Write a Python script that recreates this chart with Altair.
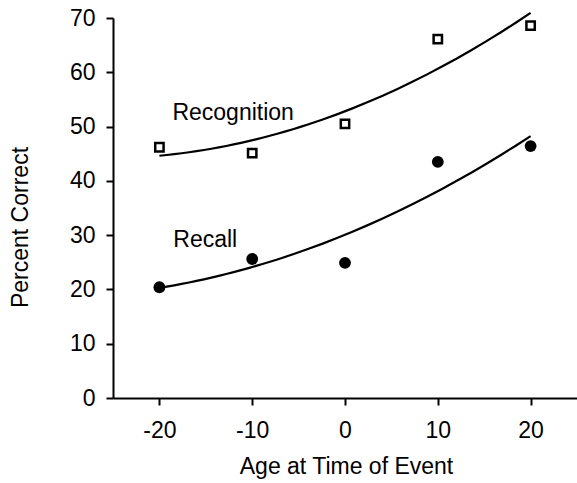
import altair as alt
import pandas as pd

ages = [-20, -10, 0, 10, 20]
recognition = [46.2, 45.1, 50.5, 66.1, 68.6]
recall = [20.4, 25.6, 24.9, 43.5, 46.4]

label_names = ["Recognition", "Recall"]
label_x = [-18.6, -18.5]
label_y = [52.5, 29.1]

df_rec = pd.DataFrame({"age": ages, "pct": recognition})
df_call = pd.DataFrame({"age": ages, "pct": recall})
df_lab = pd.DataFrame({"name": label_names, "x": label_x, "y": label_y})

FONT = "Liberation Sans"
FS = 23

xs = alt.Scale(domain=[-25, 25], nice=False, zero=False)
ys = alt.Scale(domain=[0, 70], nice=False)

hyphen = "datum.value < 0 ? '-' + abs(datum.value) : '' + datum.value"

xaxis = alt.Axis(values=[-20, -10, 0, 10, 20], title="Age at Time of Event",
                 grid=False, tickSize=7, labelPadding=14, domainWidth=2, tickWidth=2,
                 labelExpr=hyphen,
                 titleX=233, titleY=68, titleBaseline="middle", titleAlign="center")
yaxis = alt.Axis(values=[0, 10, 20, 30, 40, 50, 60, 70], title="Percent Correct",
                 grid=False, tickSize=7, labelPadding=11, domainWidth=2, tickWidth=2,
                 titleX=-93, titleY=209, titleBaseline="middle", titleAlign="center",
                 titleAngle=270)

X = alt.X("age:Q", scale=xs, axis=xaxis)
Y = alt.Y("pct:Q", scale=ys, axis=yaxis)

fit_rec = alt.Chart(df_rec).transform_regression(
    "age", "pct", method="poly", order=2, extent=[-20, 20]
).mark_line(color="black", strokeWidth=2.2).encode(x=X, y=Y)

fit_call = alt.Chart(df_call).transform_regression(
    "age", "pct", method="poly", order=2, extent=[-20, 20]
).mark_line(color="black", strokeWidth=2.2).encode(x=X, y=Y)

pts_rec = alt.Chart(df_rec).mark_point(
    shape="square", size=70, filled=False, color="black", strokeWidth=2.5, opacity=1
).encode(x=X, y=Y)

pts_call = alt.Chart(df_call).mark_point(
    shape="circle", size=140, filled=True, color="black", opacity=1
).encode(x=X, y=Y)

labels = alt.Chart(df_lab).mark_text(
    align="left", baseline="middle", font=FONT, fontSize=FS, color="black"
).encode(x=alt.X("x:Q", scale=xs), y=alt.Y("y:Q", scale=ys), text="name:N")

chart = alt.layer(fit_rec, fit_call, pts_rec, pts_call, labels).properties(
    width=464, height=380,
    padding={"left": 113, "top": 18, "right": 0, "bottom": 85},
    autosize=alt.AutoSizeParams(type="none"),
    background="white",
).configure_view(stroke=None).configure_axis(
    labelFont=FONT, titleFont=FONT, labelFontSize=FS, titleFontSize=FS,
    labelColor="black", titleColor="black", domainColor="black", tickColor="black",
    titleFontWeight="normal",
)

chart.save("out.html", embed_options={"renderer": "svg", "actions": False})
